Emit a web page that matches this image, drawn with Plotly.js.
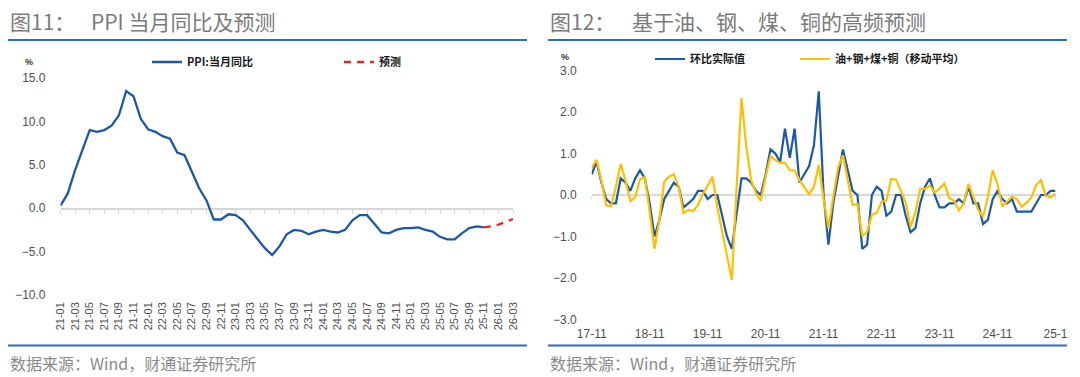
<!DOCTYPE html>
<html>
<head>
<meta charset="utf-8">
<script src="https://cdn.plot.ly/plotly-3.0.1.min.js"></script>
<style>
  html, body { margin: 0; padding: 0; background: #ffffff; }
  #chart { width: 1080px; height: 377px; }
</style>
</head>
<body>
<div id="chart"></div>
<script>
// ---------- data ----------
function monthLabels(year, month, count) {
  const out = [];
  for (let i = 0; i < count; i++) {
    const yy = year + Math.floor((month - 1 + i) / 12);
    const mm = ((month - 1 + i) % 12) + 1;
    out.push(String(yy % 100).padStart(2, '0') + '-' + String(mm).padStart(2, '0'));
  }
  return out;
}

// Figure 11: PPI YoY (21-01 .. 26-03)
const leftCategories = monthLabels(2021, 1, 63);
const ppiActualMonths = leftCategories.slice(0, 59);      // 21-01 .. 25-11
const ppiForecastMonths = leftCategories.slice(58, 63);   // 25-11 .. 26-03
const ppiActual = [
  0.3, 1.7, 4.4, 6.8, 9.0, 8.8, 9.0, 9.5, 10.7, 13.5, 12.9, 10.3,
  9.1, 8.8, 8.3, 8.0, 6.4, 6.1, 4.2, 2.3, 0.9, -1.3, -1.3, -0.7,
  -0.8, -1.4, -2.5, -3.6, -4.6, -5.4, -4.4, -3.0, -2.5, -2.6, -3.0, -2.7,
  -2.5, -2.7, -2.8, -2.5, -1.4, -0.8, -0.8, -1.8, -2.8, -2.9, -2.5, -2.3,
  -2.3, -2.2, -2.5, -2.7, -3.3, -3.6, -3.6, -2.9, -2.3, -2.1, -2.2
];
const ppiForecast = [-2.2, -2.1, -1.9, -1.6, -1.25];
const leftTickLabels = [
  '21-01','21-03','21-05','21-07','21-09','21-11',
  '22-01','22-03','22-05','22-07','22-09','22-11',
  '23-01','23-03','23-05','23-07','23-09','23-11',
  '24-01','24-03','24-05','24-07','24-09','24-11',
  '25-01','25-03','25-05','25-07','25-09','25-11',
  '26-01','26-03'
];

// Figure 12: MoM actual vs commodity-based estimate (17-11 .. 25-11)
const rightCategories = monthLabels(2017, 11, 97);
const momActual = [
  0.5, 0.8,
  0.3, -0.1, -0.2, -0.2, 0.4, 0.3, 0.1, 0.4, 0.6, 0.4, -0.2, -1.0,
  -0.6, -0.1, 0.1, 0.3, 0.2, -0.3, -0.2, -0.1, 0.1, 0.1, -0.1, 0.0,
  0.0, -0.5, -1.0, -1.3, -0.4, 0.4, 0.4, 0.3, 0.1, 0.0, 0.5, 1.1,
  1.0, 0.8, 1.6, 0.9, 1.6, 0.3, 0.5, 0.7, 1.2, 2.5, 0.0, -1.2,
  -0.2, 0.5, 1.1, 0.6, 0.1, 0.0, -1.3, -1.2, 0.0, 0.2, 0.1, -0.5,
  -0.4, 0.0, 0.0, -0.5, -0.9, -0.8, -0.2, 0.2, 0.4, 0.0, -0.3, -0.3,
  -0.2, -0.2, -0.1, -0.2, 0.2, -0.2, -0.2, -0.7, -0.6, -0.1, 0.1, -0.1,
  -0.2, -0.1, -0.4, -0.4, -0.4, -0.4, -0.2, 0.0, 0.0, 0.1, 0.1
];
const commodityEstimate = [
  0.65, 0.85, 0.35, -0.25, -0.27, 0.2, 0.75, 0.35, -0.15, -0.05, 0.38, 0.43,
  -0.4, -1.3, -0.6, 0.32, 0.44, 0.5, 0.2, -0.44, -0.36, -0.39, -0.24, 0.02,
  0.22, 0.44, -0.3, -0.9, -1.5, -2.05, 0.2, 2.34, 1.17, 0.36, 0.04, -0.14,
  0.44, 0.94, 0.85, 0.77, 0.78, 0.6, 0.59, 0.36, 0.19, 0.02, 0.2, 0.73,
  -0.1, -0.8, -0.05, 0.67, 0.96, 0.36, -0.24, -0.22, -0.99, -0.89, -0.48, -0.43,
  -0.16, -0.14, 0.39, 0.37, 0.1, -0.18, -0.77, -0.42, 0.15, 0.15, 0.23, 0.06,
  0.16, 0.28, -0.07, -0.14, -0.37, -0.2, 0.27, -0.05, -0.36, -0.53, -0.04, 0.6,
  0.26, -0.28, -0.16, -0.04, -0.1, -0.28, -0.19, -0.06, 0.24, 0.36, -0.02, -0.06, 0.04
];
const rightTickVals = ['17-11','18-11','19-11','20-11','21-11','22-11','23-11','24-11','25-11'];
const rightTickLabels = ['17-11','18-11','19-11','20-11','21-11','22-11','23-11','24-11','25-1'];

// ---------- style ----------
const W = 1080, H = 377;
const px = v => v / W;
const py = v => 1 - v / H;
const BLUE = '#1b59a7';
const RULE = '#2f6cb5';
const YELLOW = '#ffc000';
const RED = '#e4262b';
const CJK = 'Noto Sans CJK SC, sans-serif';
const NUM = 'Liberation Sans, Arial, sans-serif';
const TICKC = '#505050';

const leftYDomain = [py(295), py(78)];
const rightYDomain = [py(319.3), py(70.7)];
const leftZero = leftYDomain[0] + (leftYDomain[1] - leftYDomain[0]) * (10 / 25);
const rightZero = rightYDomain[0] + (rightYDomain[1] - rightYDomain[0]) * 0.5;
const leftXDomain = [px(60.5), px(513)];
const rightXDomain = [px(591.7), px(1055.5)];

const traces = [
  { x: ppiActualMonths, y: ppiActual, type: 'scatter', mode: 'lines', name: 'PPI:当月同比',
    line: { color: BLUE, width: 2.3 }, xaxis: 'x', yaxis: 'y', legend: 'legend' },
  { x: ppiForecastMonths, y: ppiForecast, type: 'scatter', mode: 'lines', name: '预测',
    line: { color: RED, width: 2.3, dash: '7px,6px' }, xaxis: 'x3', yaxis: 'y', legend: 'legend2' },
  { x: rightCategories, y: momActual, type: 'scatter', mode: 'lines', name: '环比实际值',
    line: { color: BLUE, width: 2.2 }, xaxis: 'x2', yaxis: 'y2', legend: 'legend3' },
  { x: rightCategories, y: commodityEstimate, type: 'scatter', mode: 'lines', name: '油+钢+煤+铜（移动平均）',
    line: { color: YELLOW, width: 2.2 }, xaxis: 'x4', yaxis: 'y2', legend: 'legend4' }
];

const legendBase = {
  orientation: 'h', xanchor: 'left', yanchor: 'middle', bgcolor: 'rgba(0,0,0,0)',
  borderwidth: 0, itemwidth: 30, tracegroupgap: 0,
  font: { family: CJK, size: 11, color: '#1a1a1a', weight: 700 }
};

const layout = {
  width: W, height: H,
  margin: { l: 0, r: 0, t: 0, b: 0, pad: 0 },
  paper_bgcolor: '#ffffff', plot_bgcolor: 'rgba(0,0,0,0)',
  showlegend: true,
  legend:  Object.assign({}, legendBase, { x: px(147), y: py(62) }),
  legend2: Object.assign({}, legendBase, { x: px(339), y: py(62) }),
  legend3: Object.assign({}, legendBase, { x: px(650), y: py(59) }),
  legend4: Object.assign({}, legendBase, { x: px(795), y: py(59) }),
  // left: labels at bottom
  xaxis: {
    domain: leftXDomain, anchor: 'y', type: 'category',
    categoryorder: 'array', categoryarray: leftCategories,
    range: [0, 62], tickvals: leftTickLabels, ticktext: leftTickLabels,
    tickangle: -90, tickfont: { family: NUM, size: 11, color: TICKC },
    showline: false, showgrid: false, zeroline: false, ticks: '', ticklabelstandoff: 4
  },
  // left: zero-crossing axis line with ticks
  xaxis3: {
    overlaying: 'x', anchor: 'free', position: leftZero, type: 'category',
    categoryorder: 'array', categoryarray: leftCategories,
    domain: leftXDomain, range: [0, 62], tickvals: leftTickLabels,
    showline: true, linecolor: '#d6d6d6', linewidth: 1.5, layer: 'below traces',
    ticks: 'outside', ticklen: 4, tickwidth: 1, tickcolor: '#d6d6d6',
    showticklabels: false, showgrid: false, zeroline: false
  },
  yaxis: {
    domain: leftYDomain, anchor: 'x', range: [-10, 15],
    tickvals: [-10, -5, 0, 5, 10, 15], tickformat: '.1f',
    tickfont: { family: NUM, size: 12, color: TICKC },
    showline: false, showgrid: false, zeroline: false, ticks: '', ticklabelstandoff: 14
  },
  xaxis2: {
    domain: rightXDomain, anchor: 'y2', type: 'category',
    categoryorder: 'array', categoryarray: rightCategories,
    range: [0, 96], tickvals: rightTickVals, ticktext: rightTickLabels,
    tickangle: 0, tickfont: { family: NUM, size: 12, color: TICKC },
    showline: false, showgrid: false, zeroline: false, ticks: '', ticklabelstandoff: 6
  },
  xaxis4: {
    overlaying: 'x2', anchor: 'free', position: rightZero, type: 'category',
    categoryorder: 'array', categoryarray: rightCategories,
    domain: rightXDomain, range: [0, 96], tickvals: rightTickVals,
    showline: true, linecolor: '#d9d9d9', linewidth: 2, layer: 'below traces',
    ticks: 'outside', ticklen: 3, tickwidth: 1, tickcolor: '#d9d9d9',
    showticklabels: false, showgrid: false, zeroline: false
  },
  yaxis2: {
    domain: rightYDomain, anchor: 'x2', range: [-3, 3],
    tickvals: [-3, -2, -1, 0, 1, 2, 3], tickformat: '.1f',
    tickfont: { family: NUM, size: 12, color: TICKC },
    showline: false, showgrid: false, zeroline: false, ticks: '', ticklabelstandoff: 14
  },
  shapes: [
    { type: 'line', xref: 'paper', yref: 'paper', x0: px(8), x1: px(527), y0: py(40), y1: py(40), line: { color: RULE, width: 2 } },
    { type: 'line', xref: 'paper', yref: 'paper', x0: px(8), x1: px(527), y0: py(345.5), y1: py(345.5), line: { color: RULE, width: 2 } },
    { type: 'line', xref: 'paper', yref: 'paper', x0: px(548), x1: px(1067), y0: py(40), y1: py(40), line: { color: RULE, width: 2 } },
    { type: 'line', xref: 'paper', yref: 'paper', x0: px(548), x1: px(1067), y0: py(345.5), y1: py(345.5), line: { color: RULE, width: 2 } }
  ],
  annotations: [
    { text: '图11：', x: px(8), y: py(21), xref: 'paper', yref: 'paper', xanchor: 'left', yanchor: 'middle', showarrow: false, font: { family: CJK, size: 21, color: '#7a7a7a' } },
    { text: 'PPI 当月同比及预测', x: px(89), y: py(21), xref: 'paper', yref: 'paper', xanchor: 'left', yanchor: 'middle', showarrow: false, font: { family: CJK, size: 21, color: '#7a7a7a' } },
    { text: '图12：', x: px(548), y: py(21), xref: 'paper', yref: 'paper', xanchor: 'left', yanchor: 'middle', showarrow: false, font: { family: CJK, size: 21, color: '#7a7a7a' } },
    { text: '基于油、钢、煤、铜的高频预测', x: px(630), y: py(21), xref: 'paper', yref: 'paper', xanchor: 'left', yanchor: 'middle', showarrow: false, font: { family: CJK, size: 21, color: '#7a7a7a' } },
    { text: '数据来源：Wind，财通证券研究所', x: px(8), y: py(363), xref: 'paper', yref: 'paper', xanchor: 'left', yanchor: 'middle', showarrow: false, font: { family: CJK, size: 16, color: '#8a8a8a' } },
    { text: '数据来源：Wind，财通证券研究所', x: px(548), y: py(363), xref: 'paper', yref: 'paper', xanchor: 'left', yanchor: 'middle', showarrow: false, font: { family: CJK, size: 16, color: '#8a8a8a' } },
    { text: '%', x: px(29), y: py(62), xref: 'paper', yref: 'paper', xanchor: 'center', yanchor: 'middle', showarrow: false, font: { family: NUM, size: 9, color: '#333333', weight: 700 } },
    { text: '%', x: px(565), y: py(57), xref: 'paper', yref: 'paper', xanchor: 'center', yanchor: 'middle', showarrow: false, font: { family: NUM, size: 9, color: '#333333', weight: 700 } }
  ]
};

Plotly.newPlot('chart', traces, layout, { staticPlot: true, displayModeBar: false });
</script>
</body>
</html>
